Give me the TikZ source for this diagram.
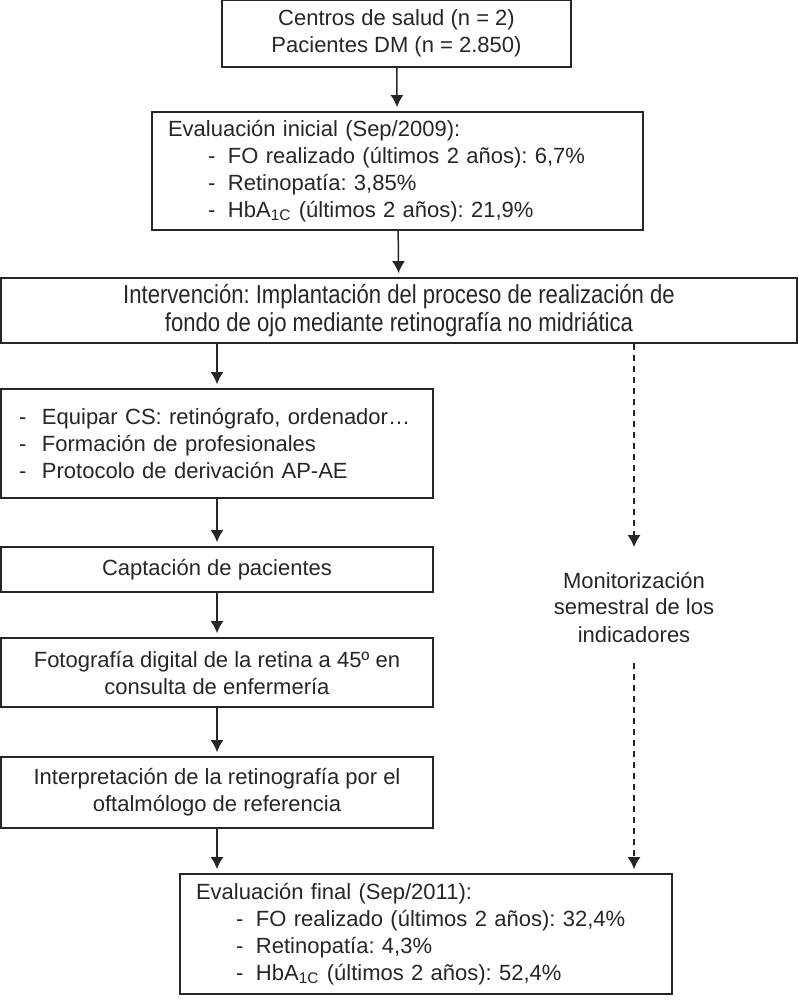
\documentclass[tikz,border=0pt]{standalone}
\usepackage{fontspec}
\setmainfont{Liberation Sans}
\newfontfamily\narrowfont[FakeStretch=0.85]{Liberation Sans}
\usepackage{tikz}
\usetikzlibrary{calc, arrows.meta, positioning}
\frenchspacing

\definecolor{ink}{gray}{0.15}
\newcommand{\guion}[1]{\hspace*{20pt}\makebox[10pt][l]{-}#1}
\newcommand{\punto}[1]{\makebox[11.5pt][l]{-}#1}

\tikzset{
    caja/.style={draw=ink, line width=0.9pt, inner xsep=8pt, inner ysep=0pt,
        text=ink, font=\fontsize{11pt}{13.5pt}\selectfont},
    flecha/.style={draw=ink, line width=0.75pt, -{Latex[length=6pt,width=6.5pt]}, shorten >=2pt},
    discont/.style={flecha, dash pattern=on 3pt off 2.5pt},
}

\begin{document}
\begin{tikzpicture}[x=0.5pt, y=-0.5pt]
    \useasboundingbox (0,0) rectangle (798,1001);

    % 1. Cajas de la columna central
    \node[caja, minimum width=174.5pt, minimum height=33.5pt, align=center]
        (centros) at (396.5,33.5) {Centros de salud (n = 2)\\ Pacientes DM (n = 2.850)};
    \node[caja, text width=229.5pt, minimum height=59pt, align=left]
        (inicial) at (397.5,171) {Evaluación inicial (Sep/2009):\\
        \guion{FO realizado (últimos 2 años): 6,7\%}\\
        \guion{Retinopatía: 3,85\%}\\
        \guion{HbA\textsubscript{1C} (últimos 2 años): 21,9\%}};
    \node[caja, minimum width=398pt, minimum height=32.5pt, align=center,
        font=\narrowfont\fontsize{13pt}{14pt}\selectfont]
        (interv) at (399,310.5) {Intervención: Implantación del proceso de realización de\\
        fondo de ojo mediante retinografía no midriática};

    % 2. Columna izquierda
    \node[caja, inner xsep=9pt, text width=198pt, minimum height=54.5pt, align=left]
        (equipar) at (217,443.5) {\punto{Equipar CS: retinógrafo, ordenador…}\\
        \punto{Formación de profesionales}\\
        \punto{Protocolo de derivación AP-AE}};
    \node[caja, minimum width=216pt, minimum height=22.5pt]
        (captacion) at (217,569.5) {Captación de pacientes};
    \node[caja, minimum width=216pt, minimum height=34.5pt, align=center]
        (foto) at (217,672.5) {Fotografía digital de la retina a 45º en\\ consulta de enfermería};
    \node[caja, minimum width=216pt, minimum height=35.5pt, align=center]
        (interp) at (217,792.5) {Interpretación de la retinografía por el\\ oftalmólogo de referencia};

    % 3. Monitorización y evaluación final
    \node[caja, draw=none, minimum height=55pt, align=center]
        (monit) at (634,607) {Monitorización\\ semestral de los\\ indicadores};
    \node[caja, text width=230pt, minimum height=60pt, align=left]
        (final) at (426,934) {Evaluación final (Sep/2011):\\
        \guion{FO realizado (últimos 2 años): 32,4\%}\\
        \guion{Retinopatía: 4,3\%}\\
        \guion{HbA\textsubscript{1C} (últimos 2 años): 52,4\%}};

    % 4. Flechas
    \draw[flecha] (centros) -- (inicial);
    \draw[flecha] (inicial) -- (interv);
    \draw[flecha] (interv.south -| equipar) -- (equipar);
    \draw[flecha] (equipar) -- (captacion);
    \draw[flecha] (captacion) -- (foto);
    \draw[flecha] (foto) -- (interp);
    \draw[flecha] (interp) -- (interp |- final.north);
    \draw[discont] (interv.south -| monit) -- (monit.north);
    \draw[discont] (monit.south) -- (monit.south |- final.north);
\end{tikzpicture}
\end{document}
